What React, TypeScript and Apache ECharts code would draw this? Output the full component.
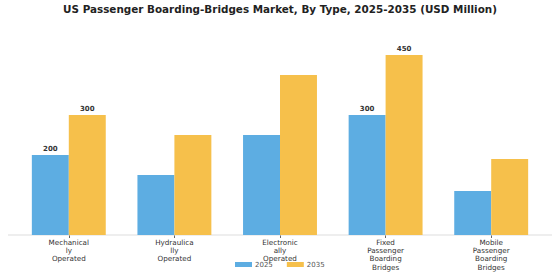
import React, { useEffect, useRef } from "react";
import * as echarts from "echarts";

const categories = [
  "Mechanical\nly\nOperated",
  "Hydraulica\nlly\nOperated",
  "Electronic\nally\nOperated",
  "Fixed\nPassenger\nBoarding\nBridges",
  "Mobile\nPassenger\nBoarding\nBridges",
];
const values2025 = [200, 150, 250, 300, 110];
const values2035 = [300, 250, 400, 450, 190];
// which bars carry a value label
const labeled2025 = [true, false, false, true, false];
const labeled2035 = [true, false, false, true, false];

const FONT = "DejaVu Sans";
const BLUE = "#5DADE2";
const ORANGE = "#F6C04B";
const TITLE = "US Passenger Boarding-Bridges Market, By Type, 2025-2035 (USD Million)";

function withLabels(values: number[], flags: boolean[]) {
  return values.map((v, i) => ({
    value: v,
    label: {
      show: flags[i],
      position: "top",
      distance: 3,
      fontFamily: FONT,
      fontSize: 7,
      fontWeight: "bold",
      color: "#333",
    },
  }));
}

export default function App() {
  const ref = useRef<HTMLDivElement>(null);

  useEffect(() => {
    if (!ref.current) return;
    const chart = echarts.init(ref.current, undefined, { renderer: "svg" });
    chart.setOption({
      animation: false,
      backgroundColor: "#ffffff",
      title: {
        text: TITLE,
        left: "center",
        top: 4,
        padding: 0,
        textStyle: {
          fontFamily: FONT,
          fontSize: 10.4,
          fontWeight: "bold",
          color: "#222",
        },
      },
      graphic: [
        {
          type: "line",
          z: 1,
          shape: { x1: 8, y1: 235, x2: 552, y2: 235 },
          style: { stroke: "#dddddd", lineWidth: 1 },
        },
      ],
      legend: {
        left: 235,
        top: 261,
        padding: 0,
        itemWidth: 17,
        itemHeight: 5,
        itemGap: 14,
        icon: "rect",
        textStyle: { fontFamily: FONT, fontSize: 7, color: "#555", padding: [0, 0, 0, -2] },
        data: ["2025", "2035"],
      },
      grid: { left: 16, right: 16, top: 35, bottom: 45 },
      xAxis: {
        type: "category",
        data: categories,
        axisLine: { show: false },
        axisTick: {
          show: true,
          alignWithLabel: true,
          length: 3,
          lineStyle: { color: "#666", width: 1 },
        },
        axisLabel: {
          interval: 0,
          margin: 3,
          fontFamily: FONT,
          fontSize: 7.2,
          lineHeight: 8.3,
          color: "#333",
        },
      },
      yAxis: {
        type: "value",
        min: 0,
        max: 500,
        show: false,
        splitLine: { show: false },
      },
      series: [
        {
          name: "2025",
          type: "bar",
          data: withLabels(values2025, labeled2025),
          itemStyle: { color: BLUE },
          barGap: "0%",
          barCategoryGap: "30%",
          z: 2,
        },
        {
          name: "2035",
          type: "bar",
          data: withLabels(values2035, labeled2035),
          itemStyle: { color: ORANGE },
          barGap: "0%",
          barCategoryGap: "30%",
          z: 2,
        },
      ],
    });
    return () => chart.dispose();
  }, []);

  return (
    <div
      ref={ref}
      style={{ position: "fixed", left: 0, top: 0, width: 560, height: 280 }}
    />
  );
}
